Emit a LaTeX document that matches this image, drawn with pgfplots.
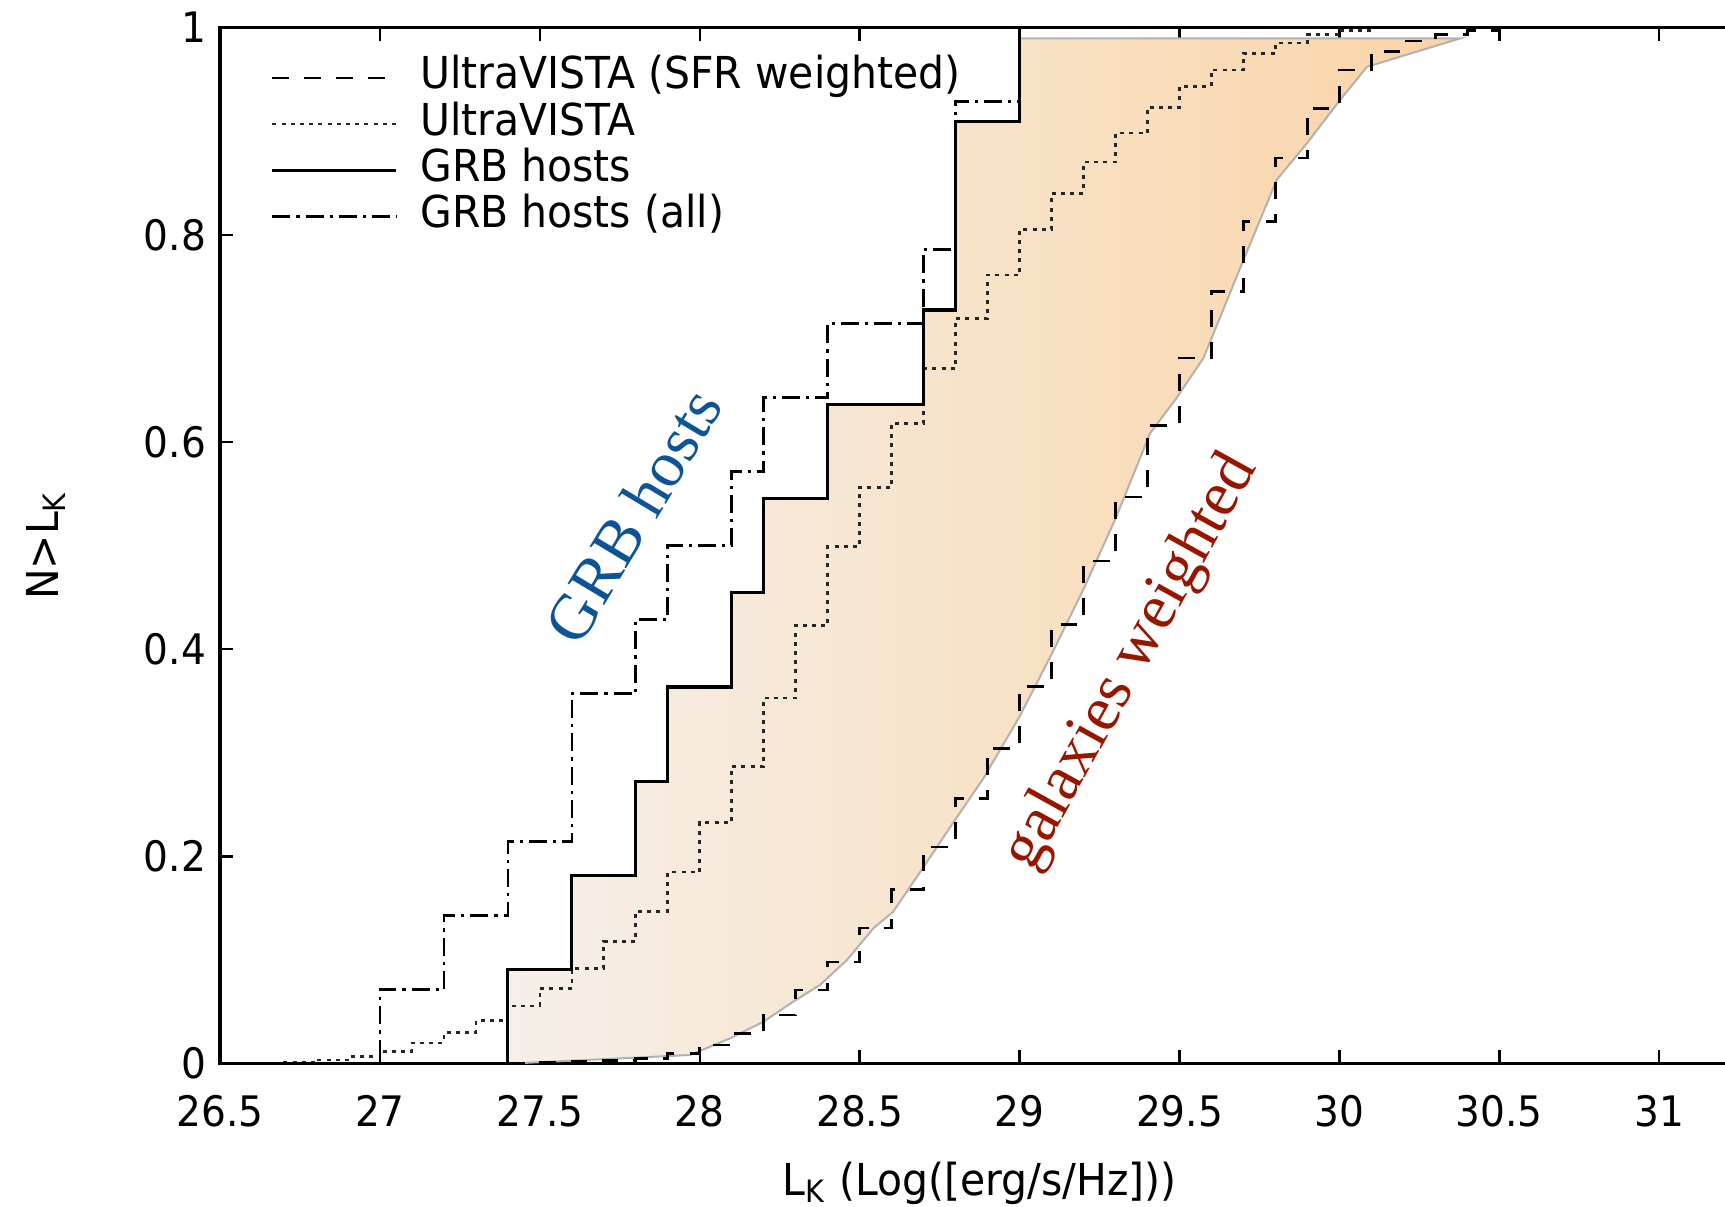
\documentclass[border=0pt]{standalone}
\usepackage{fontspec}
\setsansfont{DejaVu Sans}[FakeStretch=0.93]
\newfontfamily\annotfont{Liberation Serif}
\usepackage{pgfplots}
\pgfplotsset{compat=1.18}

\definecolor{grbblue}{RGB}{12,84,150}
\definecolor{galred}{RGB}{150,22,0}
\definecolor{fillL}{RGB}{246,240,234}
\definecolor{fillR}{RGB}{250,212,166}

\begin{document}
\begin{tikzpicture}
\begin{axis}[
  scale only axis,
  width=379.8pt, height=259.05pt,
  xmin=26.5, xmax=31.25, ymin=0, ymax=1,
  xtick={26.5,27,27.5,28,28.5,29,29.5,30,30.5,31},
  ytick={0,0.2,0.4,0.6,0.8,1},
  tick align=inside, major tick length=3.3pt,
  axis line style={line width=0.8pt},
  every tick/.style={black, line width=0.6pt},
  font=\sffamily\fontsize{10.5}{12}\selectfont,
  /pgf/number format/assume math mode=true,
  xticklabel style={yshift=-4.4pt},
  xlabel={L\textsubscript{K} (Log([erg/s/Hz]))},
  ylabel={N>L\textsubscript{K}},
  xlabel style={at={(axis description cs:0.5,-0.1151)}, anchor=center,
    font=\sffamily\fontsize{11}{12}\selectfont},
  ylabel style={at={(axis description cs:-0.1146,0.5)}, anchor=center,
    font=\sffamily\fontsize{11}{12}\selectfont},
  legend cell align=left,
  legend image code/.code={%
    \draw[#1] (0pt,0pt) -- (31pt,0pt);
    \path[draw=none, fill=none] (0pt,0pt) -- (36.5pt,0pt);},
  legend style={draw=none, fill=none, inner sep=0pt, row sep=0pt,
    at={(rel axis cs:0.0329,0.9744)}, anchor=north west,
    nodes={inner sep=0.5pt, text height=8pt, text depth=2.55pt},
    font=\sffamily\fontsize{11}{12}\selectfont},
]
\coordinate (SW) at (rel axis cs:0,0);
\coordinate (NW) at (rel axis cs:0,1);

% band between the GRB host distribution and the SFR-weighted galaxies
\addplot[draw=gray!60, line width=0.5pt, left color=fillL, right color=fillR, forget plot]
  coordinates {
  (27.4,0.0) (27.81,0.006) (27.97,0.0084) (28.095,0.0245) (28.199,0.0405)
  (28.293,0.060) (28.376,0.076) (28.46,0.10) (28.543,0.1307) (28.605,0.1467)
  (28.70,0.19) (28.80,0.236) (28.887,0.2754) (29.0,0.335) (29.1,0.395)
  (29.2,0.458) (29.3,0.526) (29.408,0.6084) (29.49,0.642) (29.575,0.681)
  (29.70,0.7756) (29.804,0.853) (29.898,0.888) (30.002,0.930) (30.086,0.962)
  (30.378,0.9895) (29.0,0.9895) (29.0,0.9091) (28.8,0.9091) (28.8,0.7273)
  (28.7,0.7273) (28.7,0.6364) (28.4,0.6364) (28.4,0.5455) (28.2,0.5455)
  (28.2,0.4545) (28.1,0.4545) (28.1,0.3636) (27.9,0.3636) (27.9,0.2727)
  (27.8,0.2727) (27.8,0.1818) (27.6,0.1818) (27.6,0.0909) (27.4,0.0909)
  } -- cycle;

% UltraVISTA, SFR weighted
\addplot[black, line width=0.65pt, dash pattern=on 4.2pt off 3.8pt, const plot]
  coordinates {
  (26.5,0) (27.5,0.001) (27.6,0.002) (27.7,0.003) (27.8,0.005) (27.9,0.010)
  (28.0,0.018) (28.1,0.029) (28.2,0.047) (28.3,0.071) (28.4,0.098)
  (28.5,0.131) (28.6,0.168) (28.7,0.209) (28.8,0.256) (28.9,0.304)
  (29.0,0.364) (29.1,0.424) (29.2,0.485) (29.3,0.547) (29.4,0.616)
  (29.5,0.681) (29.6,0.745) (29.7,0.813) (29.8,0.874) (29.9,0.922)
  (30.0,0.959) (30.1,0.977) (30.2,0.987) (30.3,0.993) (30.4,0.997)
  (30.5,1.0) (31.25,1.0)
  };
\addlegendentry{UltraVISTA (SFR weighted)}

% UltraVISTA
\addplot[black!85, line width=0.65pt, dash pattern=on 1pt off 1.3pt, const plot]
  coordinates {
  (26.5,0) (26.7,0.001) (26.8,0.0036) (26.9,0.0068) (27.0,0.0116)
  (27.1,0.020) (27.2,0.030) (27.3,0.0415) (27.4,0.0557) (27.5,0.0728)
  (27.6,0.092) (27.7,0.118) (27.8,0.147) (27.9,0.185) (28.0,0.233)
  (28.1,0.287) (28.2,0.353) (28.3,0.423) (28.4,0.499) (28.5,0.556)
  (28.6,0.618) (28.7,0.671) (28.8,0.719) (28.9,0.761) (29.0,0.805)
  (29.1,0.840) (29.2,0.870) (29.3,0.898) (29.4,0.923) (29.5,0.943)
  (29.6,0.959) (29.7,0.975) (29.8,0.985) (29.9,0.993) (30.0,0.997)
  (30.1,1.0) (31.25,1.0)
  };
\addlegendentry{UltraVISTA}

% GRB hosts
\addplot[black, line width=0.8pt, const plot]
  coordinates {
  (26.5,0) (27.4,0.0909) (27.6,0.1818) (27.8,0.2727) (27.9,0.3636)
  (28.1,0.4545) (28.2,0.5455) (28.4,0.6364) (28.7,0.7273) (28.8,0.9091)
  (29.0,1.0) (31.25,1.0)
  };
\addlegendentry{GRB hosts}

% GRB hosts (all)
\addplot[black, line width=0.65pt, dash pattern=on 4.5pt off 1.5pt on 0.8pt off 1.5pt, const plot]
  coordinates {
  (26.5,0) (27.0,0.0714) (27.2,0.1429) (27.4,0.2143) (27.6,0.3571)
  (27.8,0.4286) (27.9,0.5) (28.1,0.5714) (28.2,0.6429) (28.4,0.7143)
  (28.7,0.7857) (28.8,0.9286) (29.0,1.0) (31.25,1.0)
  };
\addlegendentry{GRB hosts (all)}

\node[rotate=59, text=grbblue, font=\annotfont\fontsize{16.2}{18}\selectfont]
  at (axis cs:27.791,0.529) {GRB hosts};
\node[rotate=61, text=galred, font=\annotfont\fontsize{16.1}{18}\selectfont]
  at (axis cs:29.35,0.387) {galaxies weighted};
\end{axis}
\pgfresetboundingbox
\path[use as bounding box] ([xshift=-55pt,yshift=-35.825pt]SW) rectangle ([xshift=376.25pt,yshift=6.875pt]NW);
\end{tikzpicture}
\end{document}
